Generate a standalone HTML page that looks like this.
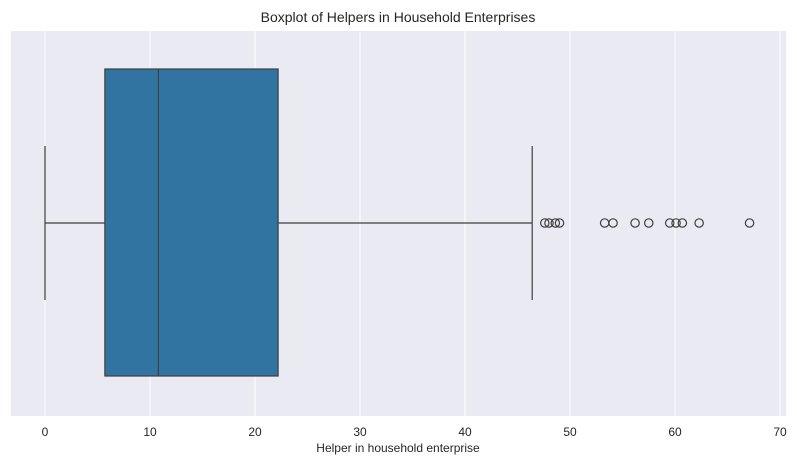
<!DOCTYPE html>
<html><head><style>
body{margin:0;background:#fff;font-family:"Liberation Sans","DejaVu Sans",sans-serif;}
</style></head><body>
<svg id="c" width="797" height="465" xmlns="http://www.w3.org/2000/svg"></svg>
<script>
const ticks=[0,10,20,30,40,50,60,70];
const stats=[0,5.7,10.8,22.2,46.4]; // whisker low, q1, median, q3, whisker high
const outliers=[47.6,48.0,48.6,49.0,53.3,54.1,56.2,57.5,59.5,60.1,60.7,62.3,67.1];
const svg=document.getElementById('c');
const NS='http://www.w3.org/2000/svg';
const L=11,T=31,R=786,B=416;
const x=v=>45+v*10.5;
function mk(tag,attrs,text){const e=document.createElementNS(NS,tag);for(const k in attrs)e.setAttribute(k,attrs[k]);if(text!==undefined)e.textContent=text;svg.appendChild(e);return e;}
let e=mk('rect',{x:L,y:T,width:R-L,height:B-T,fill:'#eaeaf2'});


ticks.forEach(t=>{
 let g=mk('line',{x1:x(t),x2:x(t),y1:T,y2:B,stroke:'#fff','stroke-width':1});
 
 
 let l=mk('text',{x:x(t),y:436,'text-anchor':'middle','font-size':12,fill:'#262626'},t);
 
 
});
const cy=223,bt=69,bb=376,ct=146,cb=300,st='#3f3f3f';
e=mk('line',{x1:x(stats[0]),x2:x(stats[1]),y1:cy,y2:cy,stroke:st,'stroke-width':1.2});


e=mk('line',{x1:x(stats[3]),x2:x(stats[4]),y1:cy,y2:cy,stroke:st,'stroke-width':1.2});


e=mk('line',{x1:x(stats[0]),x2:x(stats[0]),y1:ct,y2:cb,stroke:st,'stroke-width':1.2});


e=mk('line',{x1:x(stats[4]),x2:x(stats[4]),y1:ct,y2:cb,stroke:st,'stroke-width':1.2});


e=mk('rect',{x:x(stats[1]),y:bt,width:x(stats[3])-x(stats[1]),height:bb-bt,fill:'#3274a1',stroke:st,'stroke-width':1.2});


e=mk('line',{x1:x(stats[2]),x2:x(stats[2]),y1:bt,y2:bb,stroke:st,'stroke-width':1.2});


outliers.forEach(v=>{
 let c=mk('circle',{cx:x(v),cy:cy,r:4.2,fill:'none',stroke:st,'stroke-width':1.2});
 
 
});
e=mk('text',{x:398,y:22,'text-anchor':'middle','font-size':14,fill:'#262626'},'Boxplot of Helpers in Household Enterprises');


e=mk('text',{x:398,y:452,'text-anchor':'middle','font-size':12,fill:'#262626'},'Helper in household enterprise');


</script>
</body></html>
